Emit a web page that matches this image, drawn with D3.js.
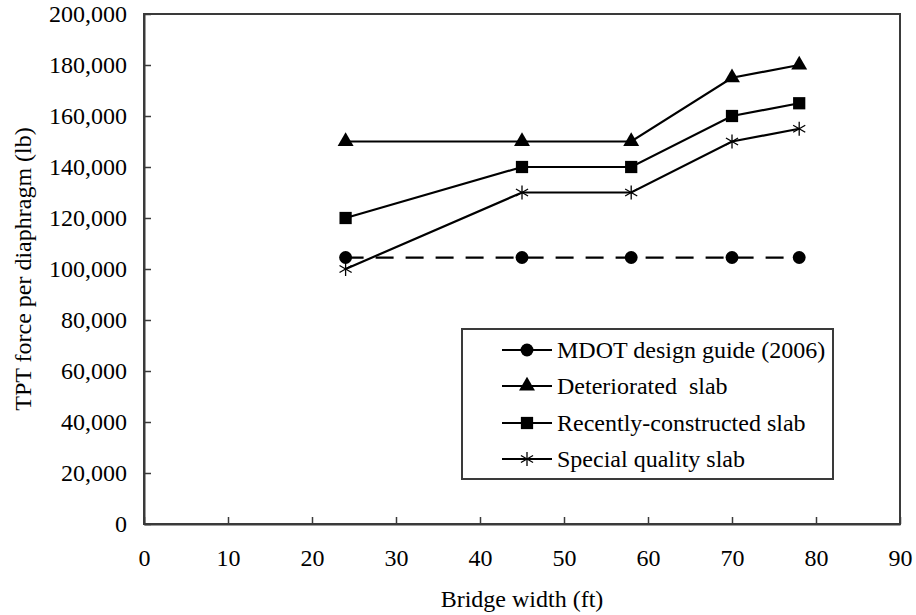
<!DOCTYPE html>
<html><head><meta charset="utf-8">
<script src="https://cdn.jsdelivr.net/npm/d3@7"></script>
<style>
body{margin:0;background:#fff;}
text{font-family:"Liberation Serif","Times New Roman",serif;fill:#000;}
</style></head>
<body><svg id="c" width="916" height="615"></svg>
<script>
const widths = [24, 45, 58, 70, 78];
const seriesNames = ["MDOT design guide (2006)", "Deteriorated  slab", "Recently-constructed slab", "Special quality slab"];
const mdot = [104500, 104500, 104500, 104500, 104500];
const deteriorated = [150000, 150000, 150000, 175000, 180000];
const recent = [120000, 140000, 140000, 160000, 165000];
const special = [100000, 130000, 130000, 150000, 155000];
const xTicks = [0,10,20,30,40,50,60,70,80,90];
const yTicks = [0,20000,40000,60000,80000,100000,120000,140000,160000,180000,200000];

const svg = d3.select("#c");
const L=144, R=900, T=14, B=524;
const x = d3.scaleLinear().domain([0,90]).range([L,R]);
const y = d3.scaleLinear().domain([0,200000]).range([B,T]);
const fmt = d3.format(",");

// frame
svg.append("rect").attr("x",L).attr("y",T).attr("width",R-L).attr("height",B-T)
  .attr("fill","none").attr("stroke","#3a3a3a").attr("stroke-width",2);

// axes
const yAxis = d3.axisLeft(y).tickValues(yTicks).tickFormat(fmt).tickSizeInner(-7).tickSizeOuter(0).tickPadding(17);
const gy = svg.append("g").attr("transform",`translate(${L},0)`).call(yAxis);
gy.select(".domain").attr("stroke","#3a3a3a").attr("stroke-width",2);
gy.selectAll(".tick line").attr("stroke","#3a3a3a").attr("stroke-width",1.5);
gy.selectAll(".tick text").attr("font-size",24).attr("font-family","Liberation Serif").attr("fill","#000");

const xAxis = d3.axisBottom(x).tickValues(xTicks).tickFormat(d3.format("d")).tickSizeInner(-7).tickSizeOuter(0).tickPadding(25);
const gx = svg.append("g").attr("transform",`translate(0,${B})`).call(xAxis);
gx.select(".domain").attr("stroke","#3a3a3a").attr("stroke-width",2);
gx.selectAll(".tick line").attr("stroke","#3a3a3a").attr("stroke-width",1.5);
gx.selectAll(".tick text").attr("font-size",24).attr("font-family","Liberation Serif").attr("fill","#000");

// titles
svg.append("text").attr("x",(L+R)/2).attr("y",607).attr("text-anchor","middle")
  .attr("font-size",24).text("Bridge width (ft)");
svg.append("text").attr("transform",`translate(31,${(T+B)/2}) rotate(-90)`).attr("text-anchor","middle")
  .attr("font-size",24).text("TPT force per diaphragm (lb)");

const series = [
  {name:seriesNames[0], vals:mdot, sym:d3.symbolCircle, size:130, dash:"18,12", star:false},
  {name:seriesNames[1], vals:deteriorated, sym:d3.symbolTriangle, size:110, dash:null, star:false},
  {name:seriesNames[2], vals:recent, sym:d3.symbolSquare, size:150, dash:null, star:false},
  {name:seriesNames[3], vals:special, sym:null, size:0, dash:null, star:true}
];

const line = d3.line().x(d=>x(d[0])).y(d=>y(d[1]));
function drawMarker(g, cx, cy, s){
  if(s.star){
    const r=7;
    const p = g.append("g").attr("transform",`translate(${cx},${cy})`).attr("stroke","#000").attr("stroke-width",1.3);
    for(let a=0;a<180;a+=60){
      const rad=(a+90)*Math.PI/180;
      p.append("line").attr("x1",-r*Math.cos(rad)).attr("y1",-r*Math.sin(rad)).attr("x2",r*Math.cos(rad)).attr("y2",r*Math.sin(rad));
    }
  } else {
    g.append("path").attr("d",d3.symbol().type(s.sym).size(s.size)())
      .attr("transform",`translate(${cx},${cy})`).attr("fill","#000");
  }
}
series.forEach(s=>{
  const pts = widths.map((w,i)=>[w,s.vals[i]]);
  svg.append("path").datum(pts).attr("d",line).attr("fill","none").attr("stroke","#000")
    .attr("stroke-width",2.2).attr("stroke-dasharray",s.dash);
  const g = svg.append("g");
  pts.forEach(p=>drawMarker(g, x(p[0]), y(p[1]), s));
});

// legend
const lg = svg.append("g");
lg.append("rect").attr("x",462).attr("y",329).attr("width",371).attr("height",150)
  .attr("fill","#fff").attr("stroke","#3a3a3a").attr("stroke-width",2);
const rowY = [350, 386, 423, 459];
series.forEach((s,i)=>{
  lg.append("line").attr("x1",502).attr("x2",552).attr("y1",rowY[i]).attr("y2",rowY[i])
    .attr("stroke","#000").attr("stroke-width",2.2);
  drawMarker(lg, 527, rowY[i], s);
  lg.append("text").attr("x",557).attr("y",rowY[i]).attr("dy","0.35em").attr("font-size",24)
    .style("white-space","pre").attr("xml:space","preserve").text(s.name);
});
</script></body></html>
